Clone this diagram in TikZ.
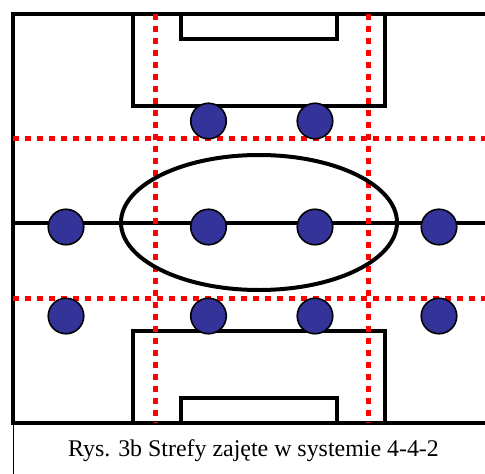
\documentclass[tikz,border=0pt]{standalone}
\usepackage{fontspec}
\setmainfont{Liberation Serif}
\tikzset{
  x=1pt,y=-1pt,
  pitch/.style={draw=black,line width=4pt,line cap=butt,line join=miter},
  zone/.style={draw=red,line width=5pt,dash pattern=on 6pt off 6pt},
  player/.style={circle,draw=black,line width=1.6pt,fill=playerblue,minimum size=35.5pt,inner sep=0pt},
}
\definecolor{playerblue}{RGB}{51,51,153}
\begin{document}
\begin{tikzpicture}
\useasboundingbox (0,0) rectangle (485,474);
\fill[white] (0,0) rectangle (485,474);
% pitch
\draw[pitch] (485,14) -- (13,14) -- (13,423) -- (485,423);
\draw[pitch] (133,14) -- (133,105.5) -- (385,105.5) -- (385,14);
\draw[pitch] (181,14) -- (181,39) -- (337,39) -- (337,14);
\draw[pitch] (133,423) -- (133,331) -- (385,331) -- (385,423);
\draw[pitch] (181,423) -- (181,398) -- (337,398) -- (337,423);
\draw[pitch] (13,222.5) -- (485,222.5);
\draw[draw=black,line width=0.8pt] (13.5,425) -- (13.5,474);
% zones
\draw[zone] (13,138.5) -- (485,138.5);
\draw[zone] (13,298) -- (485,298);
\draw[zone] (155,14) -- (155,423);
\draw[zone] (368.5,14) -- (368.5,423);
% centre ellipse
\draw[black,line width=4pt] (259,222.5) ellipse [x radius=138,y radius=67.5];
% players
\node[player] (p1) at (208.5,121) {};
\node[player] (p2) at (315,121) {};
\node[player] (p3) at (66,227) {};
\node[player] (p4) at (208.5,227) {};
\node[player] (p5) at (315,227) {};
\node[player] (p6) at (439,227) {};
\node[player] (p7) at (66,316) {};
\node[player] (p8) at (208.5,316) {};
\node[player] (p9) at (315,316) {};
\node[player] (p10) at (439,316) {};
\node[font=\fontsize{23.9}{27}\selectfont,inner sep=0pt,anchor=base] (cap) at (253.5,456.5) {Rys. 3b Strefy zajęte w systemie 4-4-2};
\end{tikzpicture}
\end{document}
